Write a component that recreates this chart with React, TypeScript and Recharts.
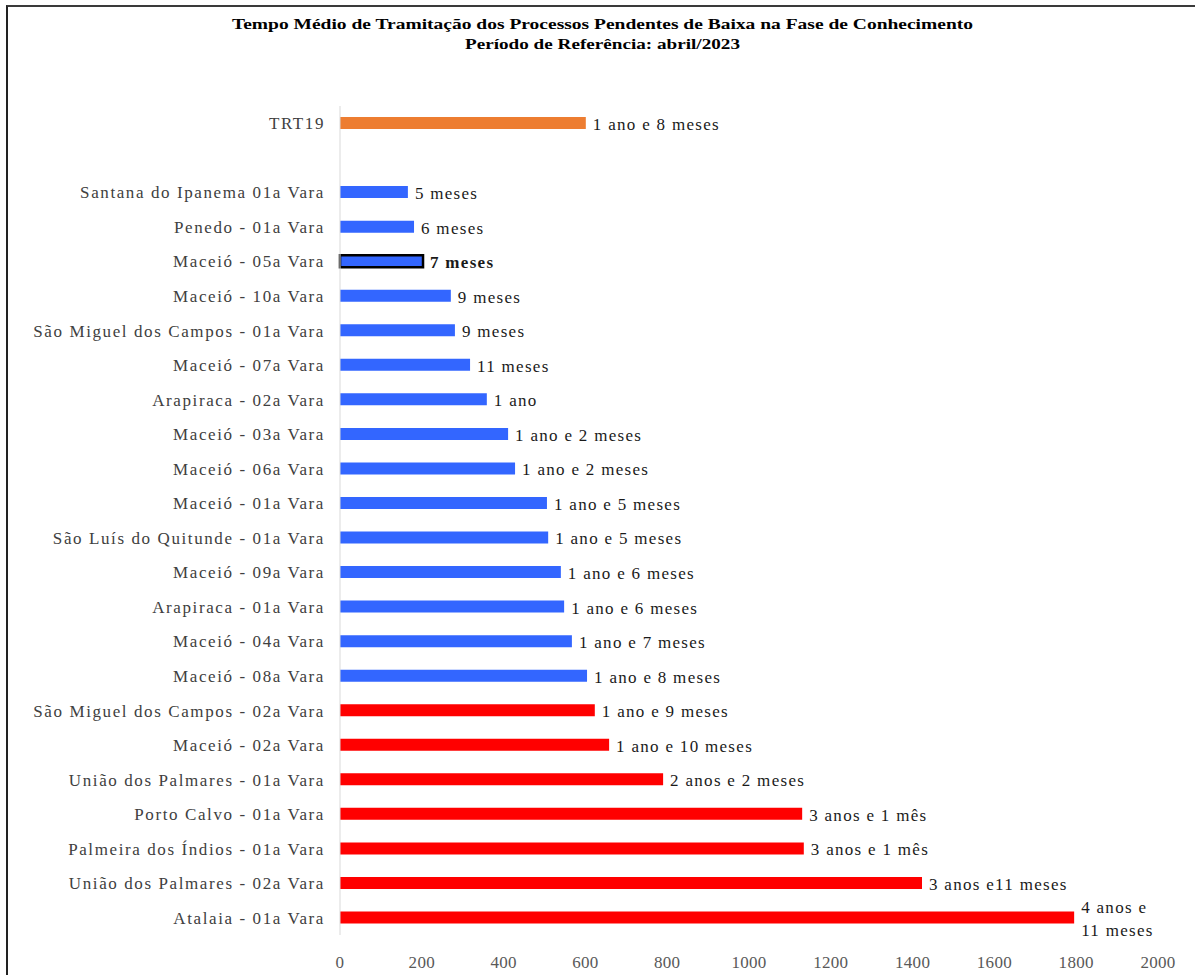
import React from "react";
import { BarChart, Bar, XAxis, YAxis, Cell, LabelList } from "recharts";

const varas = [
  "TRT19",
  "",
  "Santana do Ipanema 01a Vara",
  "Penedo - 01a Vara",
  "Maceió - 05a Vara",
  "Maceió - 10a Vara",
  "São Miguel dos Campos - 01a Vara",
  "Maceió - 07a Vara",
  "Arapiraca - 02a Vara",
  "Maceió - 03a Vara",
  "Maceió - 06a Vara",
  "Maceió - 01a Vara",
  "São Luís do Quitunde - 01a Vara",
  "Maceió - 09a Vara",
  "Arapiraca - 01a Vara",
  "Maceió - 04a Vara",
  "Maceió - 08a Vara",
  "São Miguel dos Campos - 02a Vara",
  "Maceió - 02a Vara",
  "União dos Palmares - 01a Vara",
  "Porto Calvo - 01a Vara",
  "Palmeira dos Índios - 01a Vara",
  "União dos Palmares - 02a Vara",
  "Atalaia - 01a Vara",
];

// tempo médio em dias
const dias = [
  601, null, 166, 181, 203, 271, 281, 318, 359, 411, 428, 506, 509, 540, 548,
  567, 604, 623, 658, 790, 1130, 1134, 1423, 1795,
];

const rotulos = [
  "1 ano e 8 meses",
  "",
  "5 meses",
  "6 meses",
  "7 meses",
  "9 meses",
  "9 meses",
  "11 meses",
  "1 ano",
  "1 ano e 2 meses",
  "1 ano e 2 meses",
  "1 ano e 5 meses",
  "1 ano e 5 meses",
  "1 ano e 6 meses",
  "1 ano e 6 meses",
  "1 ano e 7 meses",
  "1 ano e 8 meses",
  "1 ano e 9 meses",
  "1 ano e 10 meses",
  "2 anos e 2 meses",
  "3 anos e 1 mês",
  "3 anos e 1 mês",
  "3 anos e11 meses",
  "4 anos e\n11 meses",
];

const grupos = [
  "trt", "", "azul", "azul", "destaque", "azul", "azul", "azul", "azul", "azul",
  "azul", "azul", "azul", "azul", "azul", "azul", "azul", "vermelho", "vermelho",
  "vermelho", "vermelho", "vermelho", "vermelho", "vermelho",
];

const xTicks = [0, 200, 400, 600, 800, 1000, 1200, 1400, 1600, 1800, 2000];

const cores: Record<string, string> = {
  trt: "#ED7D31",
  azul: "#3366FF",
  destaque: "#3366FF",
  vermelho: "#FF0000",
  "": "#ffffff",
};

const data = varas.map((nome, i) => ({
  nome,
  dias: dias[i],
  rotulo: rotulos[i],
  grupo: grupos[i],
}));

const FONT = "'Liberation Serif', 'Times New Roman', serif";

function Rotulo(props: any) {
  const { x, y, width, height, value } = props;
  if (!value) return null;
  const linhas = String(value).split("\n");
  const bold = value === "7 meses";
  const tx = x + width + 7;
  const cy = y + height / 2;
  const lh = 23;
  const start = cy + 1 - ((linhas.length - 1) * lh) / 2;
  return (
    <text
      x={tx}
      fontFamily={FONT}
      fontSize={17}
      letterSpacing={1.3}
      fontWeight={bold ? "bold" : "normal"}
      fill="#1a1a1a"
    >
      {linhas.map((l, k) => (
        <tspan key={k} x={tx} y={start + k * lh} dy="0.35em">
          {l}
        </tspan>
      ))}
    </text>
  );
}

export default function App() {
  return (
    <div style={{ position: "absolute", left: 0, top: 0, width: 1195, height: 975, background: "#fff" }}>
      <div
        style={{
          position: "absolute",
          left: 6,
          top: 5,
          width: 1195 - 8,
          height: 975 - 5,
          borderTop: "2px solid #3a3a3a",
          borderLeft: "2px solid #222",
        }}
      />
      <svg style={{ position: "absolute", left: 0, top: 0 }} width={1195} height={60}>
        <text
          x={232}
          y={29}
          fontFamily={FONT}
          fontWeight="bold"
          fontSize={15}
          textLength={741}
          lengthAdjust="spacingAndGlyphs"
          fill="#000"
        >
          Tempo Médio de Tramitação dos Processos Pendentes de Baixa na Fase de Conhecimento
        </text>
        <text
          x={465}
          y={49}
          fontFamily={FONT}
          fontWeight="bold"
          fontSize={15}
          textLength={275}
          lengthAdjust="spacingAndGlyphs"
          fill="#000"
        >
          Período de Referência: abril/2023
        </text>
      </svg>
      <div style={{ position: "absolute", left: 0, top: 0 }}>
        <BarChart
          width={1195}
          height={975}
          data={data}
          layout="vertical"
          margin={{ top: 106, right: 37, bottom: 10, left: 0 }}
        >
          <XAxis
            type="number"
            domain={[0, 2000]}
            ticks={xTicks}
            axisLine={false}
            tickLine={false}
            tickMargin={15}
            height={30}
            interval={0}
            tick={{ fontSize: 17, fontFamily: FONT, fill: "#595959", letterSpacing: 0.3 }}
          />
          <YAxis
            type="category"
            dataKey="nome"
            width={340}
            axisLine={{ stroke: "#d9d9d9" }}
            tickLine={false}
            tickMargin={9}
            interval={0}
            tick={{ fontSize: 17, fontFamily: FONT, fill: "#404040", letterSpacing: 1.6 }}
          />
          <Bar dataKey="dias" barSize={12} isAnimationActive={false}>
            {data.map((d, i) => (
              <Cell
                key={i}
                fill={cores[d.grupo]}
                stroke={d.grupo === "destaque" ? "#000" : "none"}
                strokeWidth={d.grupo === "destaque" ? 2.5 : 0}
              />
            ))}
            <LabelList dataKey="rotulo" content={<Rotulo />} />
          </Bar>
        </BarChart>
      </div>
    </div>
  );
}
